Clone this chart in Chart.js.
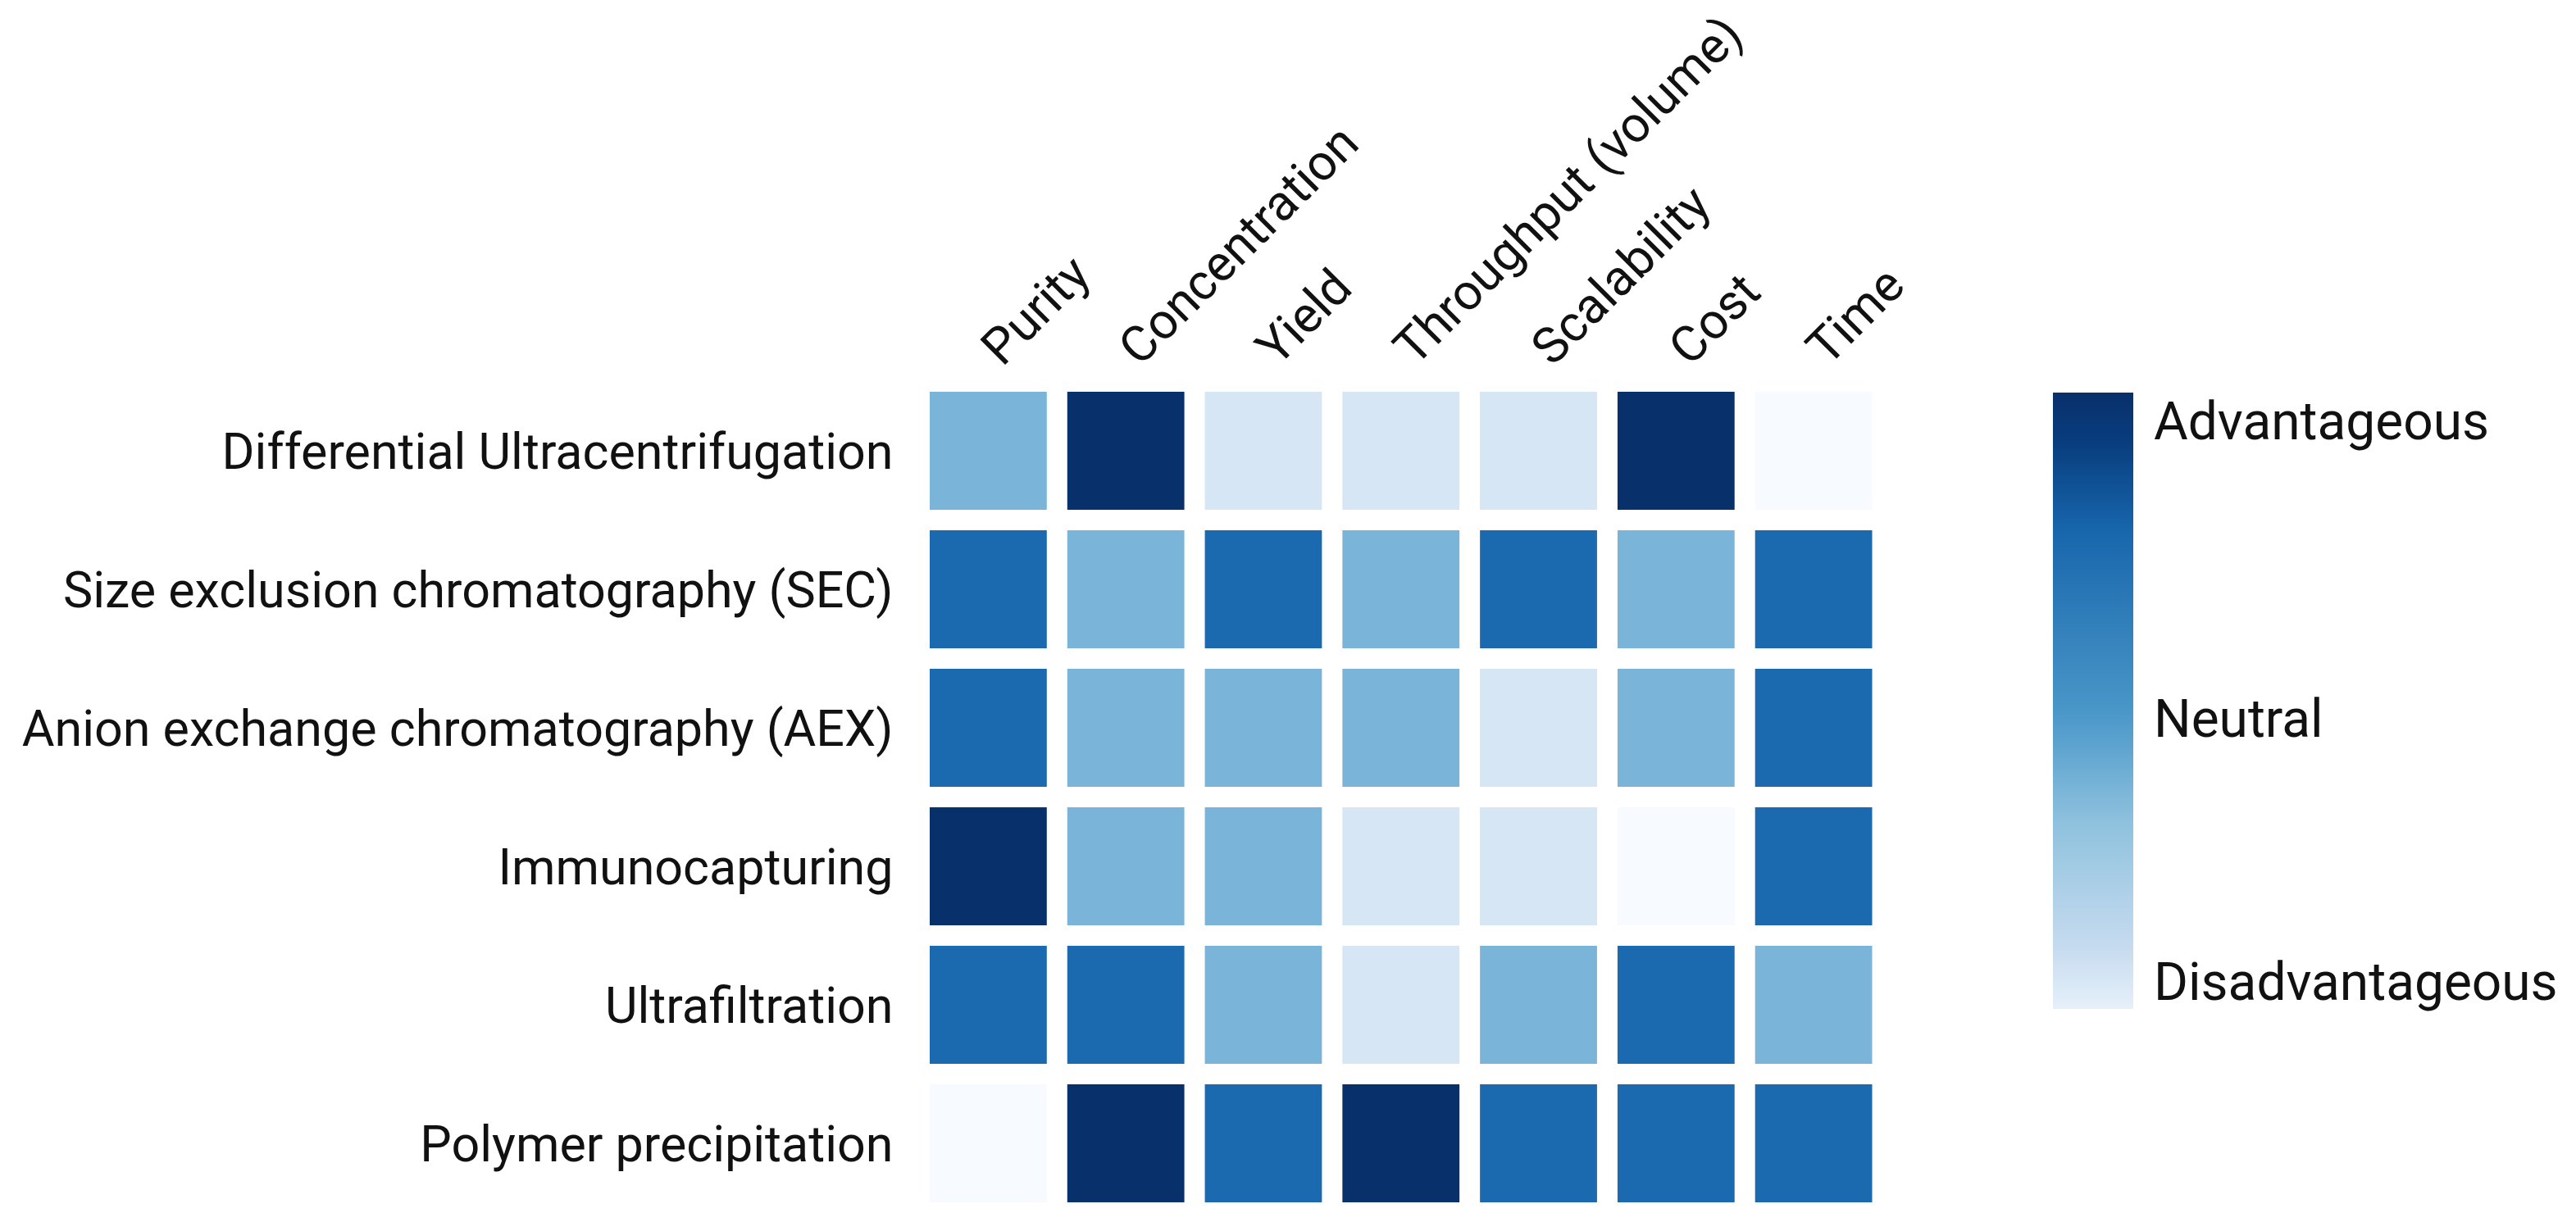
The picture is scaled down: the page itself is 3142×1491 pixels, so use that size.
<!DOCTYPE html>
<html>
<head>
<meta charset="utf-8">
<script src="https://cdn.jsdelivr.net/npm/chart.js@4.4.0/dist/chart.umd.min.js"></script>
<style>
  html, body { margin: 0; padding: 0; background: #fff; }
  #wrap { position: relative; width: 3142px; height: 1491px; }
  #heat { position: absolute; left: 0; top: 0; }
  #cbar { position: absolute; left: 2480px; top: 0; }
</style>
</head>
<body>
<div id="wrap">
  <canvas id="heat" width="3142" height="1491"></canvas>
  <canvas id="cbar" width="662" height="1491"></canvas>
</div>
<script>
const methods = [
  'Differential Ultracentrifugation',
  'Size exclusion chromatography (SEC)',
  'Anion exchange chromatography (AEX)',
  'Immunocapturing',
  'Ultrafiltration',
  'Polymer precipitation'
];
const criteria = ['Purity', 'Concentration', 'Yield', 'Throughput (volume)', 'Scalability', 'Cost', 'Time'];

// -2 = disadvantageous, 0 = neutral, 2 = advantageous
const scores = [
  [0, 2, -1, -1, -1, 2, -2],
  [1, 0, 1, 0, 1, 0, 1],
  [1, 0, 0, 0, -1, 0, 1],
  [2, 0, 0, -1, -1, -2, 1],
  [1, 1, 0, -1, 0, 1, 0],
  [-2, 2, 1, 2, 1, 1, 1]
];

const scaleLabels = ['Disadvantageous', 'Neutral', 'Advantageous'];
const scaleTicks = [-2, -0.12, 2];

const levelColors = { '-2': '#f7fbff', '-1': '#d6e6f4', '0': '#7ab5d9', '1': '#1b69af', '2': '#08306b' };
const gradientStops = [
  [0, '#e6f0fa'], [0.1, '#c6dbef'], [0.3, '#8fc2de'], [0.48, '#4a97c9'],
  [0.78, '#1765ab'], [0.92, '#083d7e'], [1, '#08306b']
];

Chart.defaults.font.family = 'Roboto';
Chart.defaults.color = '#111';

const half = 0.426;

new Chart(document.getElementById('heat'), {
  type: 'bar',
  data: {
    labels: criteria,
    datasets: methods.map((m, r) => ({
      label: m,
      data: scores[r].map(() => [r - half, r + half]),
      backgroundColor: scores[r].map(v => levelColors[v]),
      grouped: false,
      barPercentage: 1,
      categoryPercentage: 0.851,
      borderWidth: 0
    }))
  },
  options: {
    responsive: false,
    animation: false,
    events: [],
    layout: { padding: { top: 0, left: 0, right: 846, bottom: 11.5 } },
    plugins: { legend: { display: false }, tooltip: { enabled: false } },
    scales: {
      x: {
        position: 'top',
        grid: { display: false, drawTicks: false },
        border: { display: false },
        ticks: { minRotation: 45, maxRotation: 45, padding: 2, labelOffset: 58, font: { size: 61 } },
        afterFit: s => { s.height = 465.5; s.paddingLeft = 0; s.paddingRight = 0; }
      },
      y: {
        position: 'left',
        min: -0.5,
        max: 5.5,
        reverse: true,
        grid: { display: false, drawTicks: false },
        border: { display: false },
        afterBuildTicks: s => { s.ticks = methods.map((_, i) => ({ value: i })); },
        ticks: { padding: 32, labelOffset: 7, font: { size: 61 }, callback: v => methods[v] },
        afterFit: s => { s.width = 1121.5; s.paddingTop = 0; s.paddingBottom = 0; }
      }
    }
  }
});

new Chart(document.getElementById('cbar'), {
  type: 'bar',
  data: {
    labels: [''],
    datasets: [{
      data: [[-2.2, 2.2]],
      backgroundColor: ctx => {
        const a = ctx.chart.chartArea;
        if (!a) return '#4a97c9';
        const g = ctx.chart.ctx.createLinearGradient(0, a.bottom, 0, a.top);
        gradientStops.forEach(([p, c]) => g.addColorStop(p, c));
        return g;
      },
      barPercentage: 1,
      categoryPercentage: 1,
      borderWidth: 0
    }]
  },
  options: {
    responsive: false,
    animation: false,
    events: [],
    layout: { padding: { top: 479, left: 24, right: 0, bottom: 260 } },
    plugins: { legend: { display: false }, tooltip: { enabled: false } },
    scales: {
      x: { display: false },
      y: {
        position: 'right',
        min: -2.2,
        max: 2.2,
        grid: { display: false, drawTicks: false },
        border: { display: false },
        afterBuildTicks: s => { s.ticks = scaleTicks.map(v => ({ value: v })); },
        ticks: { padding: 25, labelOffset: 7, font: { size: 64 }, callback: (v, i) => scaleLabels[i] },
        afterFit: s => { s.width = 540; s.paddingTop = 0; s.paddingBottom = 0; }
      }
    }
  }
});
</script>
</body>
</html>
